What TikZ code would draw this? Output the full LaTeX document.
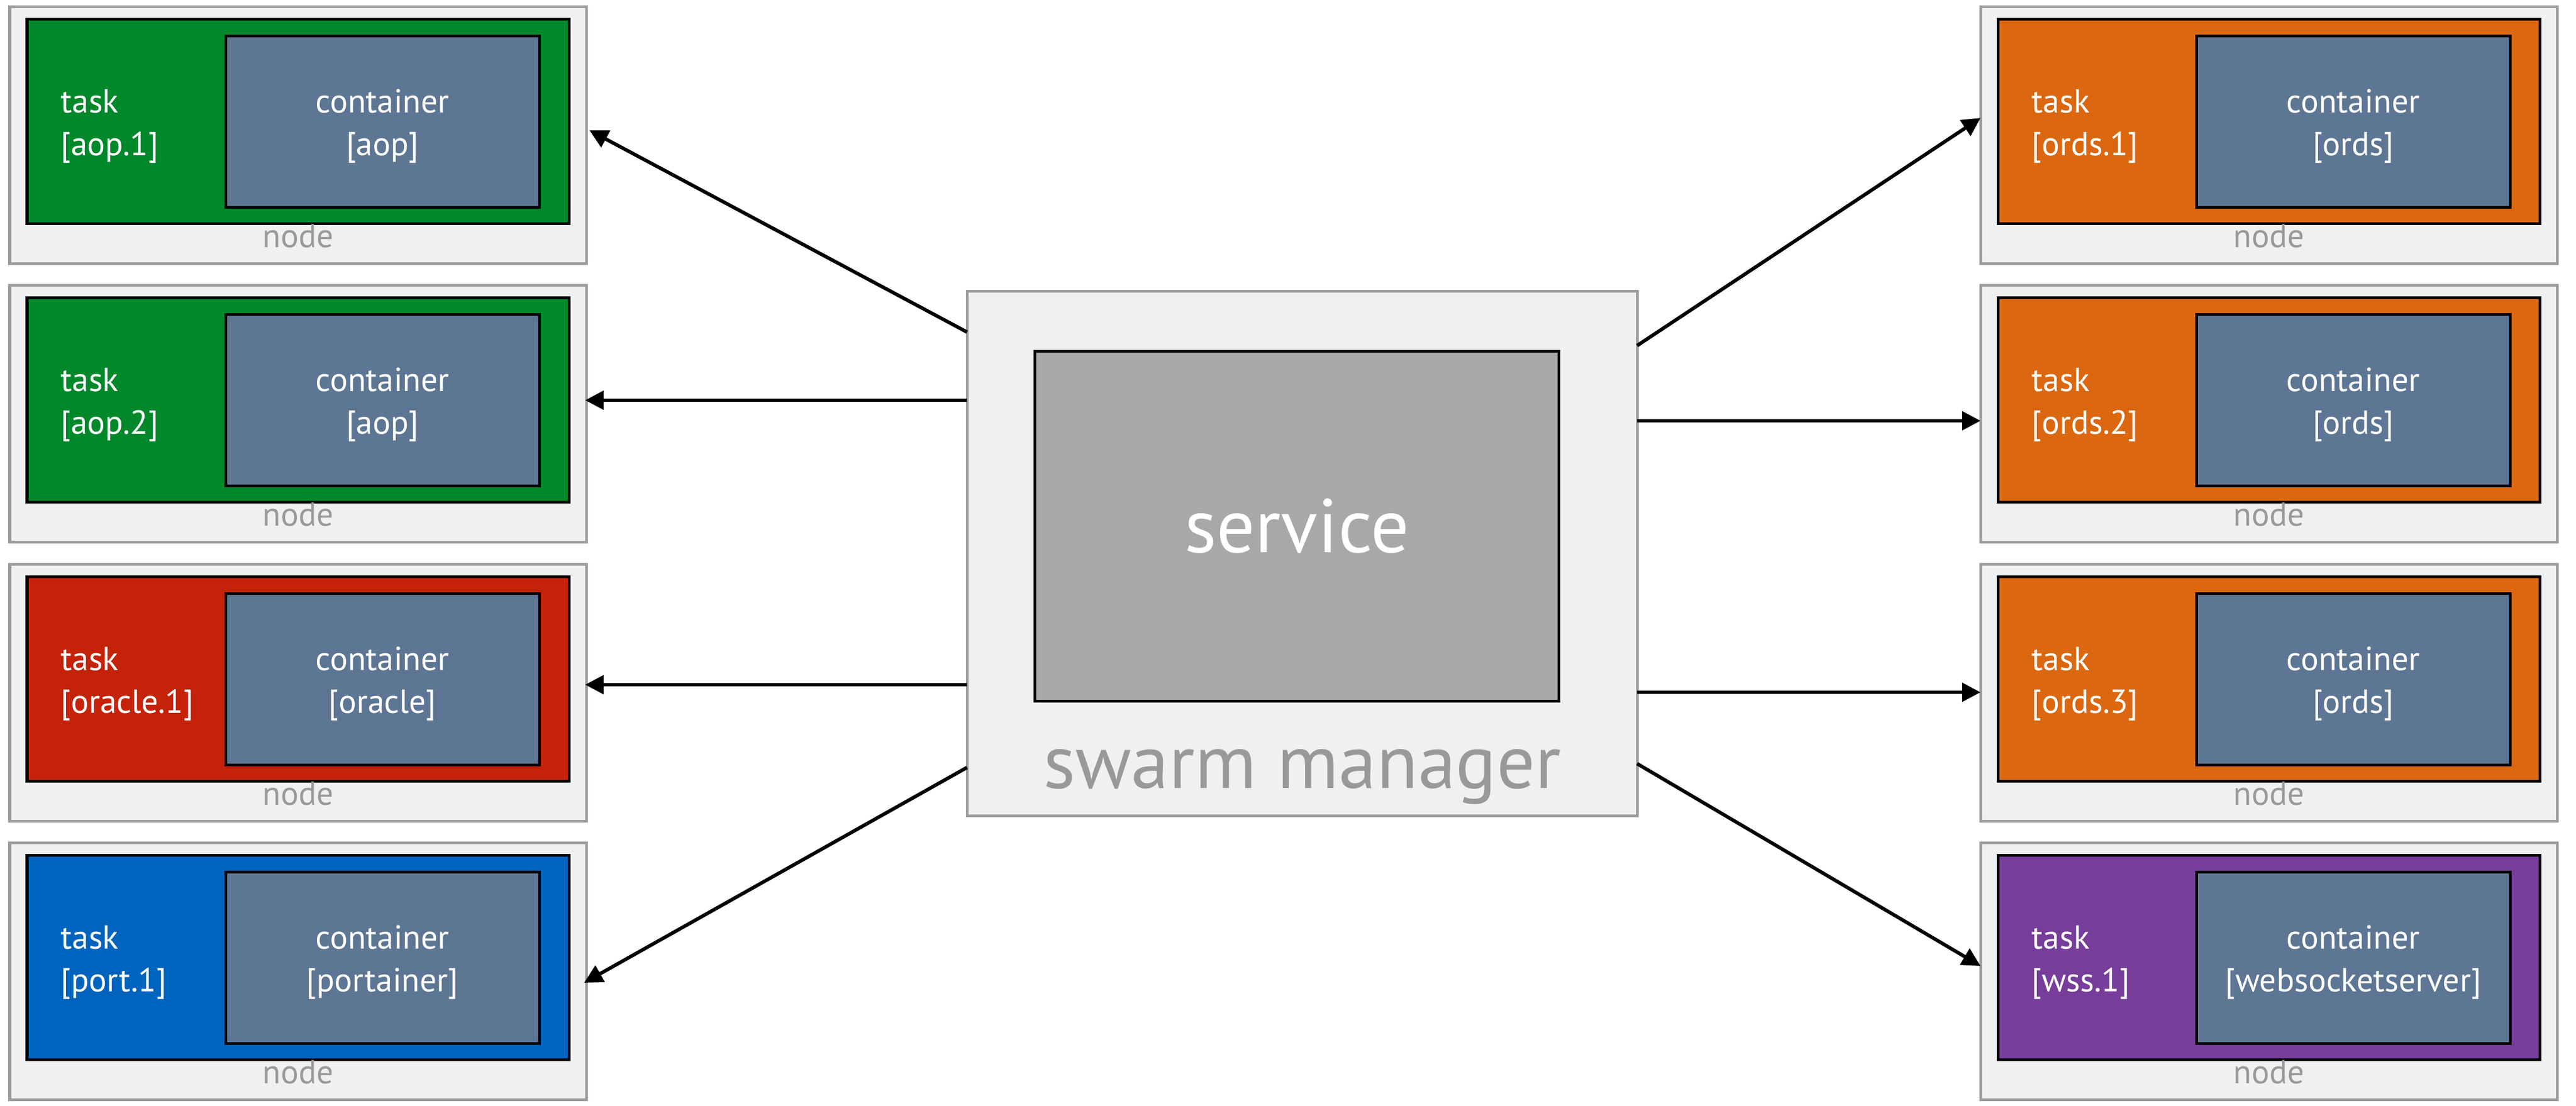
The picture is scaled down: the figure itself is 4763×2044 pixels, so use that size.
\documentclass[tikz,border=0pt]{standalone}
\usepackage{fontspec}
\setmainfont{PT Sans}
\usetikzlibrary{fit,arrows.meta}
\definecolor{boxgray}{HTML}{EFF0F2}
\definecolor{edgegray}{HTML}{9D9D9D}
\definecolor{taskgreen}{HTML}{00882B}
\definecolor{taskred}{HTML}{C4230A}
\definecolor{taskblue}{HTML}{0064BE}
\definecolor{taskorange}{HTML}{DB6810}
\definecolor{taskpurple}{HTML}{773D9A}
\definecolor{contblue}{HTML}{5D7694}
\definecolor{svcgray}{HTML}{A6A9A8}
\definecolor{labelgray}{HTML}{999999}
\tikzset{
 obox/.style={draw=edgegray, fill=boxgray, line width=0.05cm, inner sep=0pt},
 tbox/.style={draw=black, line width=0.05cm, inner sep=0pt},
 cbox/.style={draw=black, fill=contblue, line width=0.05cm, inner sep=0pt},
 svcbox/.style={draw=black, fill=svcgray, line width=0.05cm, inner sep=0pt},
 wtxt/.style={text=white, inner sep=0pt, font=\fontsize{17.5}{21}\selectfont},
 gtxt/.style={text=labelgray, inner sep=0pt, font=\fontsize{17.5}{21}\selectfont},
 bigtxt/.style={inner sep=0pt, font=\fontsize{40}{48}\selectfont},
 arr/.style={line width=0.065cm, -{Triangle[length=0.34cm, width=0.34cm]}},
}
\newcommand\swnode[6]{%
  \node[obox, fit={(#2,#3) (#2+1066,#3+475)}] (#1) {};
  \node[tbox, fill=#4, fit={(#2+32,#3+23) (#2+1034,#3+401)}] (#1-task) {};
  \node[cbox, fit={(#2+399,#3+54) (#2+979,#3+371)}] (#1-cont) {};
  \node[wtxt, anchor=base west] (#1-tl1) at (#2+94,#3+196) {task};
  \node[wtxt, anchor=base west] (#1-tl2) at (#2+94,#3+275) {#5};
  \node[wtxt, anchor=base] (#1-cl1) at (#2+689,#3+196) {container};
  \node[wtxt, anchor=base] (#1-cl2) at (#2+689,#3+275) {#6};
  \node[gtxt, anchor=base] (#1-lbl) at (#2+533,#3+445) {node};
}
\begin{document}
\begin{tikzpicture}[x=0.01cm, y=-0.01cm]
\useasboundingbox[fill=white] (0,0) rectangle (4763,2044);
% left column
\swnode{L1}{18}{12}{taskgreen}{[aop.1]}{[aop]}
\swnode{L2}{18}{527}{taskgreen}{[aop.2]}{[aop]}
\swnode{L3}{18}{1043}{taskred}{[oracle.1]}{[oracle]}
\swnode{L4}{18}{1558}{taskblue}{[port.1]}{[portainer]}
% right column
\swnode{R1}{3662}{12}{taskorange}{[ords.1]}{[ords]}
\swnode{R2}{3662}{527}{taskorange}{[ords.2]}{[ords]}
\swnode{R3}{3662}{1043}{taskorange}{[ords.3]}{[ords]}
\swnode{R4}{3662}{1558}{taskpurple}{[wss.1]}{[websocketserver]}
% swarm manager
\node[obox, fit={(1788,538) (3027,1508)}] (sm) {};
\node[svcbox, fit={(1913,649) (2882,1296)}] (svc) {};
\node[bigtxt, text=white, anchor=base] (svclbl) at (2398,1021) {service};
\node[bigtxt, text=labelgray, anchor=base] (smlbl) at (2408,1457) {swarm manager};
% connector end points
\coordinate (a1s) at (1788,614);  \coordinate (a1e) at (1090,241);
\coordinate (a2s) at (1788,740);  \coordinate (a2e) at (1082,740);
\coordinate (a3s) at (1788,1266); \coordinate (a3e) at (1082,1266);
\coordinate (a4s) at (1788,1419); \coordinate (a4e) at (1080,1817);
\coordinate (b1s) at (3027,639);  \coordinate (b1e) at (3662,218);
\coordinate (b2s) at (3027,778);  \coordinate (b2e) at (3662,778);
\coordinate (b3s) at (3027,1280); \coordinate (b3e) at (3662,1280);
\coordinate (b4s) at (3027,1412); \coordinate (b4e) at (3662,1786);
\draw[arr] (a1s) -- (a1e);
\draw[arr] (a2s) -- (a2e);
\draw[arr] (a3s) -- (a3e);
\draw[arr] (a4s) -- (a4e);
\draw[arr] (b1s) -- (b1e);
\draw[arr] (b2s) -- (b2e);
\draw[arr] (b3s) -- (b3e);
\draw[arr] (b4s) -- (b4e);
\end{tikzpicture}
\end{document}
